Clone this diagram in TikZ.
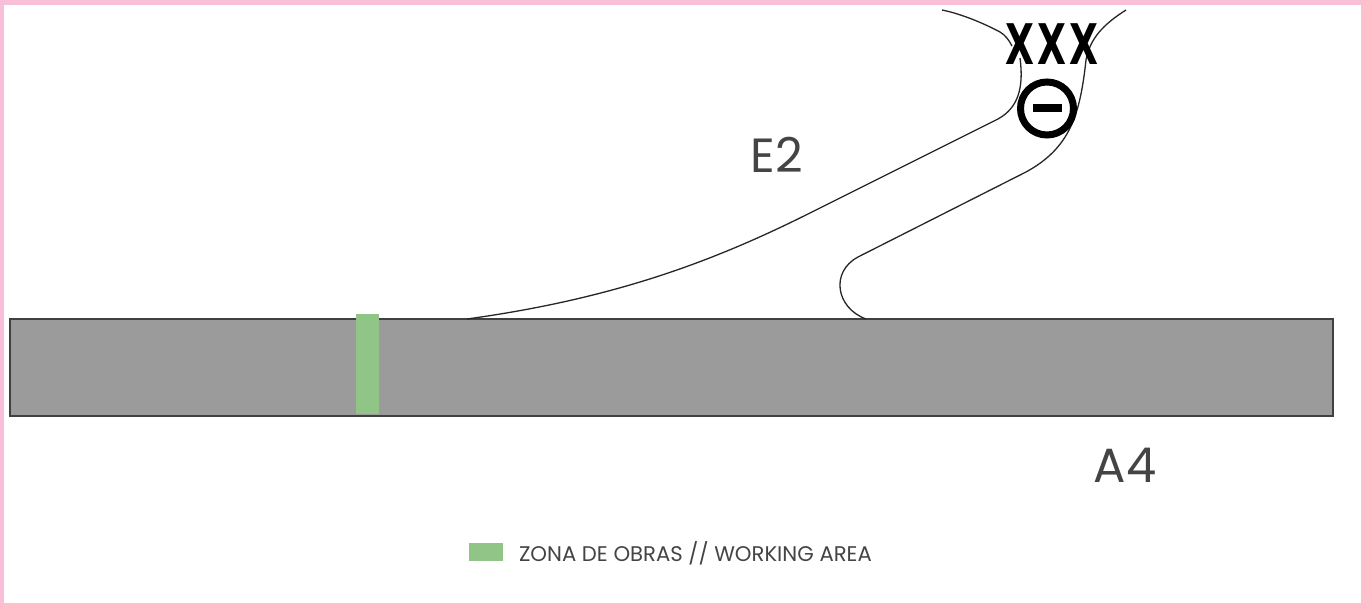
\documentclass[tikz,border=0pt]{standalone}
\usepackage{fontspec}
\setmainfont{Poppins}
\newfontfamily\closurefont[LetterSpace=8]{DejaVu Sans}
\definecolor{framepink}{HTML}{F9BFD9}
\definecolor{roadgray}{HTML}{9B9B9B}
\definecolor{worksgreen}{HTML}{90C587}
\definecolor{labelgray}{HTML}{444444}
\begin{document}
\begin{tikzpicture}[x=0.5pt,y=-0.5pt]
\tikzstyle{every node}=[inner sep=0pt,outer sep=0pt];
\tikzstyle{roadline}=[draw=black!85,line width=0.65pt];
\tikzstyle{roadlabel}=[text=labelgray,font=\fontsize{24}{24}\selectfont];
\tikzstyle{worksbox}=[fill=worksgreen,draw=none];
\useasboundingbox (0,0) rectangle (1361,603);
\fill[framepink] (0,0) rectangle (1361,603);
\fill[white] (4,5) rectangle (1361,603);
\fill[roadgray,draw=black!75,line width=0.8pt] (10,319) rectangle (1333,416);
\fill[worksbox] (356,314) rectangle (379,414);
\draw[roadline] (467,319) .. controls (620,298) and (720,258) .. (810,213)
	-- (998,119) .. controls (1018,108) and (1024,88) .. (1020,58);
\draw[roadline] (866,319) .. controls (836,308) and (830,272) .. (858,257)
	-- (1026,172) .. controls (1070,148) and (1080,115) .. (1086,60)
	.. controls (1090,38) and (1104,24) .. (1126,10);
\draw[roadline] (942,10) .. controls (962,14) and (985,24) .. (1000,32)
	.. controls (1005,35) and (1009,40) .. (1012,46);
\node[font=\closurefont\bfseries\fontsize{28}{28}\selectfont,xscale=0.67,transform shape] (closure) at (1052,44.5) {XXX};
\node[circle,draw=black,line width=3.5pt,minimum size=26.5pt] (noentry) at (1047,108.5) {};
\node[fill=black,minimum width=14.5pt,minimum height=4pt] (noentrybar) at (noentry.center) {};
\node[roadlabel] (e2) at (777,155) {E2};
\node[roadlabel] (a4) at (1125,465) {A4};
\node[worksbox,minimum width=17pt,minimum height=9pt] (legendbox) at (486,552) {};
\node[anchor=west,text=labelgray,font=\fontsize{10.6}{10.6}\selectfont] (legendtext) at (519,553) {ZONA DE OBRAS // WORKING AREA};
\end{tikzpicture}
\end{document}
